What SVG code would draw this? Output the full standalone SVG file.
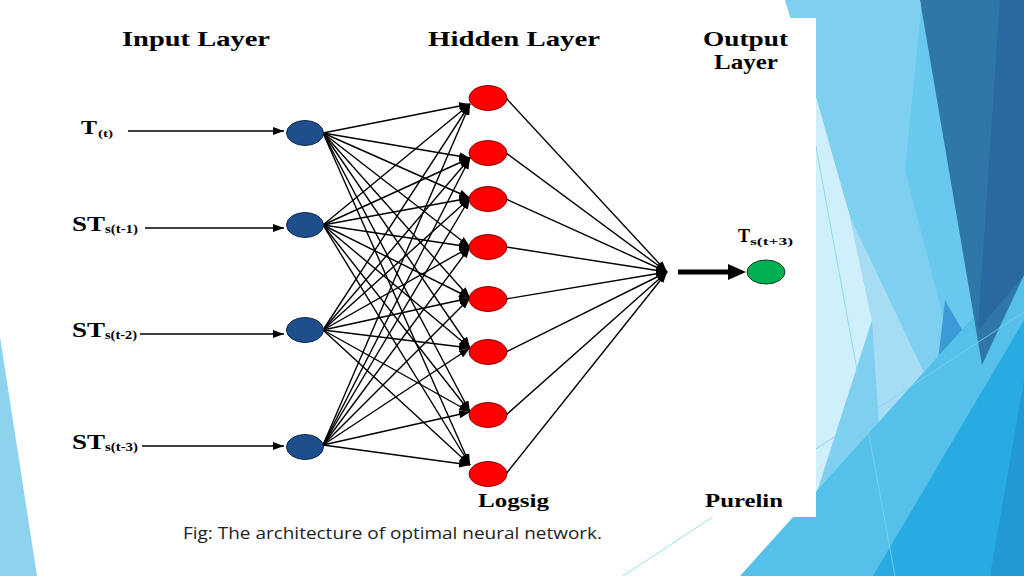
<svg xmlns="http://www.w3.org/2000/svg" width="1024" height="576" viewBox="0 0 1024 576">
  <defs>
    <marker id="ah" markerUnits="userSpaceOnUse" markerWidth="11" markerHeight="8" refX="11" refY="4" orient="auto">
      <path d="M0,0 L11,4 L0,8 z" fill="#000"/>
    </marker>
    <style>
      .t { font-family: "Liberation Serif", "Times New Roman", serif; font-weight: bold; fill: #000; }
      .cap { font-family: "Open Sans", "Noto Sans", sans-serif; fill: #222; }
      .inN { fill: #1f4e8c; stroke: #0f2a4d; stroke-width: 1; }
      .hidN { fill: #ff0000; stroke: #8b0000; stroke-width: 1; }
      .outN { fill: #00b050; stroke: #0d3d1d; stroke-width: 1; }
      .c { stroke: #000; stroke-width: 1.4; fill: none; marker-end: url(#ah); }
      .thin { stroke: #7fd3f0; stroke-width: 0.8; fill: none; }
    </style>
  </defs>
  <rect width="1024" height="576" fill="#fff"/>
  <!-- background facets -->
  <g id="background">
    <polygon points="0,337 0,576 37,576" fill="#8dd3ee"/>
    <polygon points="785,0 920,0 985,370 930,576 760,576 816,495 850,217" fill="#7fd0f0"/>
    <polygon points="800,40 850,217 872,320 816,495" fill="#cfeffa"/>
    <polygon points="850,217 930,385 880,440 872,320" fill="#a6ddf4"/>
    <polygon points="922,0 982,365 950,343 905,170" fill="#68c8ee"/>
    <polygon points="945,300 985,370 955,465 930,430" fill="#3d9ad8"/>
    <polygon points="740,576 950,343 1024,262 1024,576" fill="#55c0e9"/>
    <polygon points="873,576 1024,320 1024,576" fill="#28abe0"/>
    <polygon points="990,576 1024,576 1024,380" fill="#2299d1"/>
    <polygon points="920,0 1024,0 1024,275 982,365" fill="#2f76a9"/>
    <polygon points="1000,0 1024,0 1024,275 978,330" fill="#2968a0"/>
    <line class="thin" x1="789" y1="0" x2="895" y2="576"/>
    <line class="thin" x1="623" y1="576" x2="1024" y2="312"/>
    <rect x="60" y="18" width="756" height="499" fill="#fff"/>
  </g>
  <!-- titles -->
  <g id="titles">
    <text class="t" x="122" y="46" font-size="21" textLength="148" lengthAdjust="spacingAndGlyphs">Input Layer</text>
    <text class="t" x="428" y="46" font-size="21" textLength="172" lengthAdjust="spacingAndGlyphs">Hidden Layer</text>
    <text class="t" x="703" y="46" font-size="21" textLength="85" lengthAdjust="spacingAndGlyphs">Output</text>
    <text class="t" x="714" y="69" font-size="21" textLength="64" lengthAdjust="spacingAndGlyphs">Layer</text>
    <text class="t" x="478" y="507" font-size="18" textLength="71" lengthAdjust="spacingAndGlyphs">Logsig</text>
    <text class="t" x="705" y="507" font-size="18" textLength="78" lengthAdjust="spacingAndGlyphs">Purelin</text>
  </g>
  <!-- input labels -->
  <g id="labels">
    <text class="t" x="81" y="134" font-size="18" textLength="16" lengthAdjust="spacingAndGlyphs">T</text>
    <text class="t" x="98" y="137" font-size="11" textLength="15" lengthAdjust="spacingAndGlyphs">(t)</text>
    <text class="t" x="72" y="231" font-size="21" textLength="33" lengthAdjust="spacingAndGlyphs">ST</text>
    <text class="t" x="105" y="233" font-size="12" textLength="33" lengthAdjust="spacingAndGlyphs">s(t-1)</text>
    <text class="t" x="72" y="337" font-size="21" textLength="33" lengthAdjust="spacingAndGlyphs">ST</text>
    <text class="t" x="105" y="339" font-size="12" textLength="32" lengthAdjust="spacingAndGlyphs">s(t-2)</text>
    <text class="t" x="72" y="449" font-size="21" textLength="33" lengthAdjust="spacingAndGlyphs">ST</text>
    <text class="t" x="105" y="451" font-size="12" textLength="33" lengthAdjust="spacingAndGlyphs">s(t-3)</text>
    <text class="t" x="738" y="242" font-size="18" textLength="12" lengthAdjust="spacingAndGlyphs">T</text>
    <text class="t" x="750" y="245" font-size="11" textLength="43" lengthAdjust="spacingAndGlyphs">s(t+3)</text>
  </g>
  <!-- connectors -->
  <g id="connectors">
    <line class="c" x1="128" y1="131" x2="284" y2="131"/>
    <line class="c" x1="145" y1="228" x2="284" y2="228"/>
    <line class="c" x1="140" y1="334" x2="284" y2="334"/>
    <line class="c" x1="142" y1="446" x2="284" y2="446"/>
    <!-- input 1 -->
    <line class="c" x1="323" y1="133" x2="470" y2="104"/>
    <line class="c" x1="323" y1="133" x2="470" y2="158"/>
    <line class="c" x1="323" y1="133" x2="470" y2="198"/>
    <line class="c" x1="323" y1="133" x2="470" y2="247"/>
    <line class="c" x1="323" y1="133" x2="470" y2="298"/>
    <line class="c" x1="323" y1="133" x2="470" y2="348"/>
    <line class="c" x1="323" y1="133" x2="470" y2="412"/>
    <line class="c" x1="323" y1="133" x2="470" y2="465"/>
    <!-- input 2 -->
    <line class="c" x1="323" y1="225" x2="470" y2="104"/>
    <line class="c" x1="323" y1="225" x2="470" y2="158"/>
    <line class="c" x1="323" y1="225" x2="470" y2="198"/>
    <line class="c" x1="323" y1="225" x2="470" y2="247"/>
    <line class="c" x1="323" y1="225" x2="470" y2="298"/>
    <line class="c" x1="323" y1="225" x2="470" y2="348"/>
    <line class="c" x1="323" y1="225" x2="470" y2="412"/>
    <line class="c" x1="323" y1="225" x2="470" y2="465"/>
    <!-- input 3 -->
    <line class="c" x1="323" y1="330" x2="470" y2="104"/>
    <line class="c" x1="323" y1="330" x2="470" y2="158"/>
    <line class="c" x1="323" y1="330" x2="470" y2="198"/>
    <line class="c" x1="323" y1="330" x2="470" y2="247"/>
    <line class="c" x1="323" y1="330" x2="470" y2="298"/>
    <line class="c" x1="323" y1="330" x2="470" y2="348"/>
    <line class="c" x1="323" y1="330" x2="470" y2="412"/>
    <line class="c" x1="323" y1="330" x2="470" y2="465"/>
    <!-- input 4 -->
    <line class="c" x1="323" y1="445" x2="470" y2="104"/>
    <line class="c" x1="323" y1="445" x2="470" y2="158"/>
    <line class="c" x1="323" y1="445" x2="470" y2="198"/>
    <line class="c" x1="323" y1="445" x2="470" y2="247"/>
    <line class="c" x1="323" y1="445" x2="470" y2="298"/>
    <line class="c" x1="323" y1="445" x2="470" y2="348"/>
    <line class="c" x1="323" y1="445" x2="470" y2="412"/>
    <line class="c" x1="323" y1="445" x2="470" y2="465"/>
    <!-- hidden to output -->
    <line class="c" x1="506" y1="98" x2="667" y2="272"/>
    <line class="c" x1="506" y1="153" x2="667" y2="272"/>
    <line class="c" x1="506" y1="199" x2="667" y2="272"/>
    <line class="c" x1="506" y1="247" x2="667" y2="272"/>
    <line class="c" x1="506" y1="299" x2="667" y2="272"/>
    <line class="c" x1="506" y1="352" x2="667" y2="272"/>
    <line class="c" x1="506" y1="415" x2="667" y2="272"/>
    <line class="c" x1="506" y1="474" x2="667" y2="272"/>
    <line x1="678" y1="272" x2="731" y2="272" stroke="#000" stroke-width="5"/>
    <polygon points="728,264 746,272 728,280" fill="#000"/>
  </g>
  <!-- nodes -->
  <g id="input-1"><ellipse class="inN" cx="305" cy="133" rx="18.5" ry="12.5"/></g>
  <g id="input-2"><ellipse class="inN" cx="305" cy="225" rx="18.5" ry="12.5"/></g>
  <g id="input-3"><ellipse class="inN" cx="305" cy="330" rx="18.5" ry="12.5"/></g>
  <g id="input-4"><ellipse class="inN" cx="305" cy="447" rx="18.5" ry="12.5"/></g>
  <g id="hidden-1"><ellipse class="hidN" cx="488" cy="98" rx="19" ry="12.5"/></g>
  <g id="hidden-2"><ellipse class="hidN" cx="488" cy="153" rx="19" ry="12.5"/></g>
  <g id="hidden-3"><ellipse class="hidN" cx="488" cy="199" rx="19" ry="12.5"/></g>
  <g id="hidden-4"><ellipse class="hidN" cx="488" cy="247" rx="19" ry="12.5"/></g>
  <g id="hidden-5"><ellipse class="hidN" cx="488" cy="299" rx="19" ry="12.5"/></g>
  <g id="hidden-6"><ellipse class="hidN" cx="488" cy="352" rx="19" ry="12.5"/></g>
  <g id="hidden-7"><ellipse class="hidN" cx="488" cy="415" rx="19" ry="12.5"/></g>
  <g id="hidden-8"><ellipse class="hidN" cx="488" cy="474" rx="19" ry="12.5"/></g>
  <g id="output"><ellipse class="outN" cx="766" cy="272" rx="19" ry="12"/></g>
  <!-- caption -->
  <text class="cap" x="183" y="539" font-size="16" textLength="419" lengthAdjust="spacingAndGlyphs">Fig: The architecture of optimal neural network.</text>
</svg>
